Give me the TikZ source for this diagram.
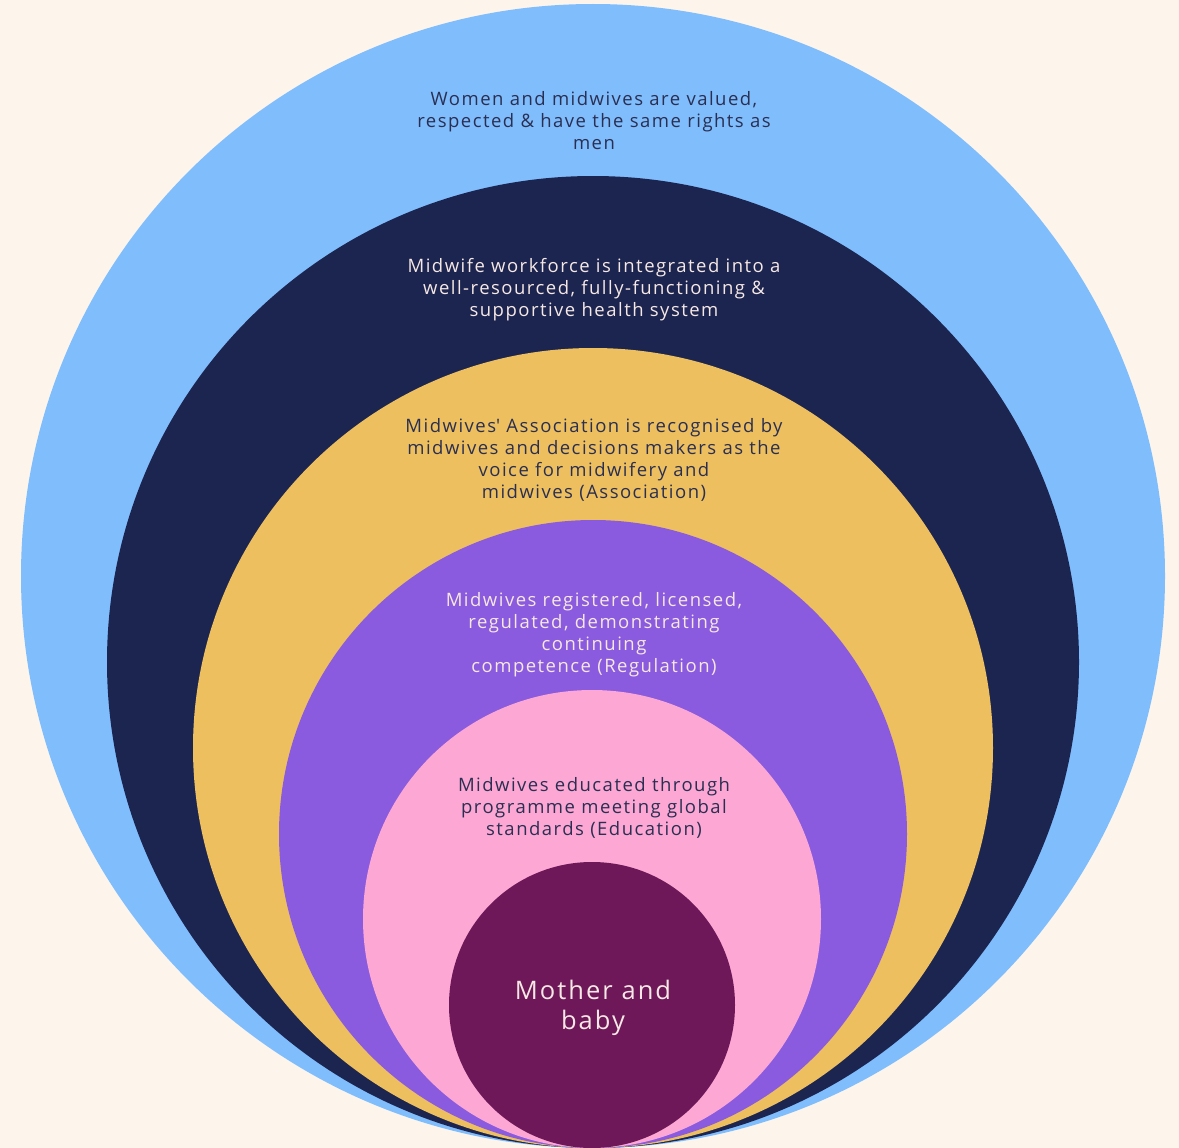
\documentclass[tikz,border=0pt]{standalone}
\usepackage{fontspec}
\setmainfont{Open Sans}[LetterSpace=8]
\definecolor{bgc}{HTML}{FDF5EC}
\definecolor{c1}{HTML}{80BDFD}
\definecolor{c2}{HTML}{1C2550}
\definecolor{c3}{HTML}{EDBF5F}
\definecolor{c4}{HTML}{8A5ADF}
\definecolor{c5}{HTML}{FDA8D4}
\definecolor{c6}{HTML}{6E1759}
\definecolor{darktxt}{HTML}{2A2F52}
\definecolor{lighttxt}{HTML}{F6E8E4}
\begin{document}
\begin{tikzpicture}[x=1pt,y=-1pt,
  ring/.style={circle,inner sep=0pt,minimum size=#1},
  lbl/.style={align=center,font=\fontsize{18.5}{22}\selectfont,inner sep=0pt}]
\fill[bgc] (0,0) rectangle (1179,1148);
\useasboundingbox (0,0) rectangle (1179,1148);
\node[ring=1144pt,fill=c1] (r1) at (593,576) {};
\node[ring=972pt,fill=c2] (r2) at (593,662) {};
\node[ring=800pt,fill=c3] (r3) at (593,748) {};
\node[ring=628pt,fill=c4] (r4) at (593,834) {};
\node[ring=458pt,fill=c5] (r5) at (592,919) {};
\node[ring=286pt,fill=c6] (r6) at (592,1005) {};
\node[lbl,text=darktxt] (t1) at (594,121) {Women and midwives are valued,\\respected \& have the same rights as\\men};
\node[lbl,text=lighttxt] (t2) at (594,290) {Midwife workforce is integrated into a\\well-resourced, fully-functioning \&\\supportive health system};
\node[lbl,text=darktxt] (t3) at (594,460) {Midwives\textquotesingle{} Association is recognised by\\midwives and decisions makers as the\\voice for midwifery and\\midwives (Association)};
\node[lbl,text=lighttxt] (t4) at (594,635) {Midwives registered, licensed,\\regulated, demonstrating\\continuing\\competence (Regulation)};
\node[lbl,text=darktxt] (t5) at (594,808) {Midwives educated through\\programme meeting global\\standards (Education)};
\node[lbl,text=lighttxt,font=\fontsize{25.5}{30}\selectfont] (t6) at (593,1008) {Mother and\\baby};
\end{tikzpicture}
\end{document}
